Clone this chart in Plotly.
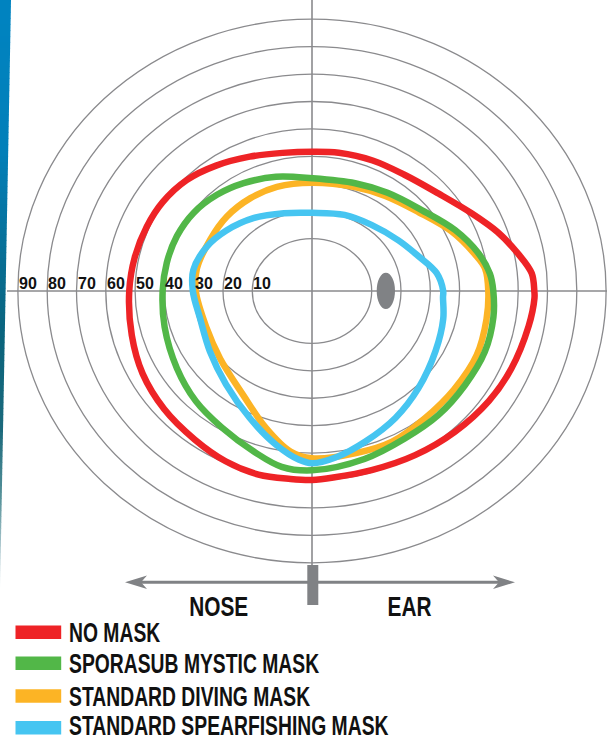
import numpy as np
import plotly.graph_objects as go

# Grid rings (degrees of visual field) and their labels
ring_levels = [10, 20, 30, 40, 50, 60, 70, 80, 90]
ring_labels = ["10", "20", "30", "40", "50", "60", "70", "80", "90"]

series_names = ["NO MASK", "SPORASUB MYSTIC MASK", "STANDARD DIVING MASK",
                "STANDARD SPEARFISHING MASK"]
series_colors = ["#ee2326", "#52b748", "#fcb425", "#46c5f1"]

# Field boundaries: direction (deg; 0 = ear side, 90 = up, 180 = nose side)
# and reach on the ring scale
no_mask_dir = [0, 5, 11, 19, 28, 40, 54, 67, 80, 90, 101, 113, 125, 136, 147, 157,
               168, 180, 195, 208, 221, 234, 245, 255, 264, 270, 276, 287, 300,
               313, 326, 337, 350, 358]
no_mask_reach = [65.5, 64.9, 61.4, 56.7, 51.3, 46.1, 43.3, 42.6, 42.1, 41.7, 42.2,
                 44.1, 46.7, 49.1, 50.4, 50.9, 51.4, 52.0, 53.3, 55.1, 56.5, 57.8,
                 59.4, 60.2, 59.8, 59.8, 59.3, 59.2, 60.0, 61.1, 62.5, 63.5, 64.7,
                 65.6]

mystic_dir = [0, 6, 14, 25, 39, 55, 70, 90, 106, 120, 132, 144, 156, 168, 180, 195,
              212, 226, 239, 252, 261, 270, 286, 300, 313, 326, 339, 351]
mystic_reach = [51.5, 50.7, 48.1, 43.5, 37.8, 34.6, 32.7, 32.0, 34.2, 36.3, 38.1,
                39.5, 40.1, 40.3, 40.6, 41.7, 44.0, 46.7, 49.1, 52.7, 55.8, 56.3,
                54.6, 53.0, 52.8, 52.5, 52.8, 52.3]

diving_dir = [0, 8, 14, 25, 39, 55, 70, 90, 107, 121, 136, 151, 168, 180, 201, 219,
              239, 253, 263, 270, 284, 296, 309, 323, 337, 350]
diving_reach = [49.8, 49.3, 46.8, 42.2, 36.5, 33.2, 31.3, 30.4, 30.6, 30.4, 30.0,
                29.4, 29.8, 29.3, 28.2, 30.0, 35.2, 43.2, 49.9, 51.9, 51.8, 52.0,
                50.7, 50.4, 50.7, 50.1]

spear_dir = [0, 9, 20, 33, 51, 69, 90, 108, 126, 142, 155, 169, 180, 195, 213, 230,
             246, 258, 266, 270, 278, 288, 301, 315, 332, 347, 357]
spear_reach = [34.4, 32.7, 28.2, 24.8, 21.9, 20.6, 19.4, 20.7, 23.7, 26.7, 29.2,
               30.9, 30.3, 29.2, 31.2, 35.3, 41.7, 48.3, 52.6, 53.7, 51.9, 48.6,
               44.9, 41.0, 37.4, 35.6, 34.4]


# ---- geometry of the (slightly elliptical) ring scale, in screen units ----
def ring_rx(level):
    return 30.4 + 2.93 * np.asarray(level, dtype=float)


def ring_ry(level):
    return 25.0 + 2.742 * np.asarray(level, dtype=float)


def field_xy(directions, reach):
    t = np.radians(np.asarray(directions, dtype=float))
    x = ring_rx(reach) * np.cos(t)
    y = ring_ry(reach) * np.sin(t)
    # close the loop on the starting point so the spline is drawn closed
    return np.append(x, x[0]), np.append(y, y[0])


# screen position helpers (origin at the centre of the rings, y up)
CX, CY = 312, 291
W, H = 607, 740


def sx(px):
    return px - CX


def sy(py):
    return CY - py


GRID = "#8a8a8d"
DARK = "#808285"
FONT = "Liberation Sans, Arial, sans-serif"
INK = "#111111"

fig = go.Figure()

# field boundaries (diving first so the others sit on top of it)
order = [2, 0, 1, 3]
all_fields = [(no_mask_dir, no_mask_reach), (mystic_dir, mystic_reach),
              (diving_dir, diving_reach), (spear_dir, spear_reach)]
for i in order:
    d, r = all_fields[i]
    x, y = field_xy(d, r)
    fig.add_trace(go.Scatter(
        x=x, y=y, mode="lines", name=series_names[i],
        line=dict(color=series_colors[i], width=6.5, shape="spline", smoothing=1.0),
        hoverinfo="skip", showlegend=False))

shapes = []

# left edge stripe, fading from blue to teal to white
stripe_keys_y = [0, 150, 250, 340, 430, 500, 555, 592]
stripe_keys_r = [0, 3, 8, 11, 28, 90, 185, 250]
stripe_keys_g = [132, 128, 112, 100, 106, 148, 208, 252]
stripe_keys_b = [193, 186, 152, 124, 124, 156, 214, 252]
step = 6
for y0 in range(0, 592, step):
    y1 = y0 + step
    ym = y0 + step / 2
    w0 = 11.0 * (1 - y0 / 592)
    w1 = 11.0 * (1 - min(y1, 592) / 592)
    col = "rgb(%d,%d,%d)" % (np.interp(ym, stripe_keys_y, stripe_keys_r),
                              np.interp(ym, stripe_keys_y, stripe_keys_g),
                              np.interp(ym, stripe_keys_y, stripe_keys_b))
    shapes.append(dict(
        type="path", xref="x", yref="y", layer="below",
        path="M %f,%f L %f,%f L %f,%f L %f,%f Z" % (
            sx(0), sy(y0), sx(w0), sy(y0), sx(w1), sy(y1 + 0.6), sx(0), sy(y1 + 0.6)),
        fillcolor=col, line=dict(width=0)))

# rings
for lv in ring_levels:
    rx, ry = float(ring_rx(lv)), float(ring_ry(lv))
    shapes.append(dict(type="circle", xref="x", yref="y", layer="below",
                       x0=-rx, x1=rx, y0=-ry, y1=ry,
                       line=dict(color=GRID, width=1.3)))

# cross hairs
shapes.append(dict(type="line", xref="x", yref="y", layer="below",
                   x0=sx(7), x1=sx(W), y0=0, y1=0, line=dict(color=GRID, width=1.6)))
shapes.append(dict(type="line", xref="x", yref="y", layer="below",
                   x0=0, x1=0, y0=sy(0), y1=sy(570), line=dict(color=GRID, width=1.6)))

# eye marker
shapes.append(dict(type="circle", xref="x", yref="y", layer="below",
                   x0=sx(376.7), x1=sx(395), y0=sy(309), y1=sy(272.7),
                   fillcolor=DARK, line=dict(width=0)))

# nose / ear direction arrow
ay = 582.3
shapes.append(dict(type="line", xref="x", yref="y",
                   x0=sx(136), x1=sx(505), y0=sy(ay), y1=sy(ay),
                   line=dict(color=DARK, width=3)))
shapes.append(dict(type="path", xref="x", yref="y", fillcolor=DARK, line=dict(width=0),
                   path="M %f,%f L %f,%f L %f,%f L %f,%f Z" % (
                       sx(125), sy(ay), sx(147), sy(575.5), sx(141), sy(ay),
                       sx(147), sy(589))))
shapes.append(dict(type="path", xref="x", yref="y", fillcolor=DARK, line=dict(width=0),
                   path="M %f,%f L %f,%f L %f,%f L %f,%f Z" % (
                       sx(515), sy(ay), sx(493), sy(575.5), sx(499), sy(ay),
                       sx(493), sy(589))))
shapes.append(dict(type="rect", xref="x", yref="y", fillcolor=DARK, line=dict(width=0),
                   x0=sx(307.3), x1=sx(318.3), y0=sy(605), y1=sy(565)))

annotations = []
# ring labels along the nose side of the horizontal axis
for lv, lab in zip(ring_levels, ring_labels):
    annotations.append(dict(
        x=-float(ring_rx(lv)) + 10, y=8, xref="x", yref="y", text=lab,
        showarrow=False, xanchor="center", yanchor="middle",
        font=dict(family=FONT, size=16, color=INK, weight="bold")))

annotations.append(dict(x=sx(218.5), y=sy(606), xref="x", yref="y", text="NOSE",
                        showarrow=False, xanchor="center", yanchor="middle",
                        font=dict(family=FONT, size=28, color=INK, weight="bold")))
annotations.append(dict(x=sx(409.5), y=sy(606), xref="x", yref="y", text="EAR",
                        showarrow=False, xanchor="center", yanchor="middle",
                        font=dict(family=FONT, size=28, color=INK, weight="bold")))

# legend drawn as swatches + labels
legend_rows = [632.3, 663.3, 696.0, 727.8]
legend_text_rows = [632.8, 663.8, 696.5, 725.0]
for name, col, yc, yt in zip(series_names, series_colors, legend_rows, legend_text_rows):
    shapes.append(dict(type="rect", xref="x", yref="y", fillcolor=col, line=dict(width=0),
                       x0=sx(15.5), x1=sx(61.2), y0=sy(yc + 6.7), y1=sy(yc - 6.7)))
    annotations.append(dict(x=sx(66.5), y=sy(yt), xref="x", yref="y", text=name,
                            showarrow=False, xanchor="left", yanchor="middle",
                            font=dict(family=FONT, size=28, color=INK, weight="bold")))

fig.update_layout(
    width=W, height=H, margin=dict(l=0, r=0, t=0, b=0),
    paper_bgcolor="white", plot_bgcolor="white",
    xaxis=dict(range=[sx(0), sx(W)], visible=False, fixedrange=True),
    yaxis=dict(range=[sy(H), sy(0)], visible=False, fixedrange=True),
    shapes=shapes, annotations=annotations, showlegend=False)

# heavy condensed lettering for the direction words and the legend labels
condense_js = """
var gd = document.getElementById('{plot_id}');
var legendNames = %s;
function condense() {
  gd.querySelectorAll('text.annotation-text').forEach(function (t) {
    var s = t.textContent;
    if (/^[0-9]+$/.test(s)) { return; }
    var isLegend = legendNames.indexOf(s) >= 0;
    t.style.transformBox = 'fill-box';
    t.style.transformOrigin = isLegend ? 'left center' : 'center center';
    t.style.transform = isLegend ? 'scaleX(0.69)' : 'scaleX(0.745)';
  });
}
condense();
gd.on('plotly_afterplot', condense);
""" % str(series_names).replace("'", '"')

fig.write_html("out.html", post_script=condense_js)
